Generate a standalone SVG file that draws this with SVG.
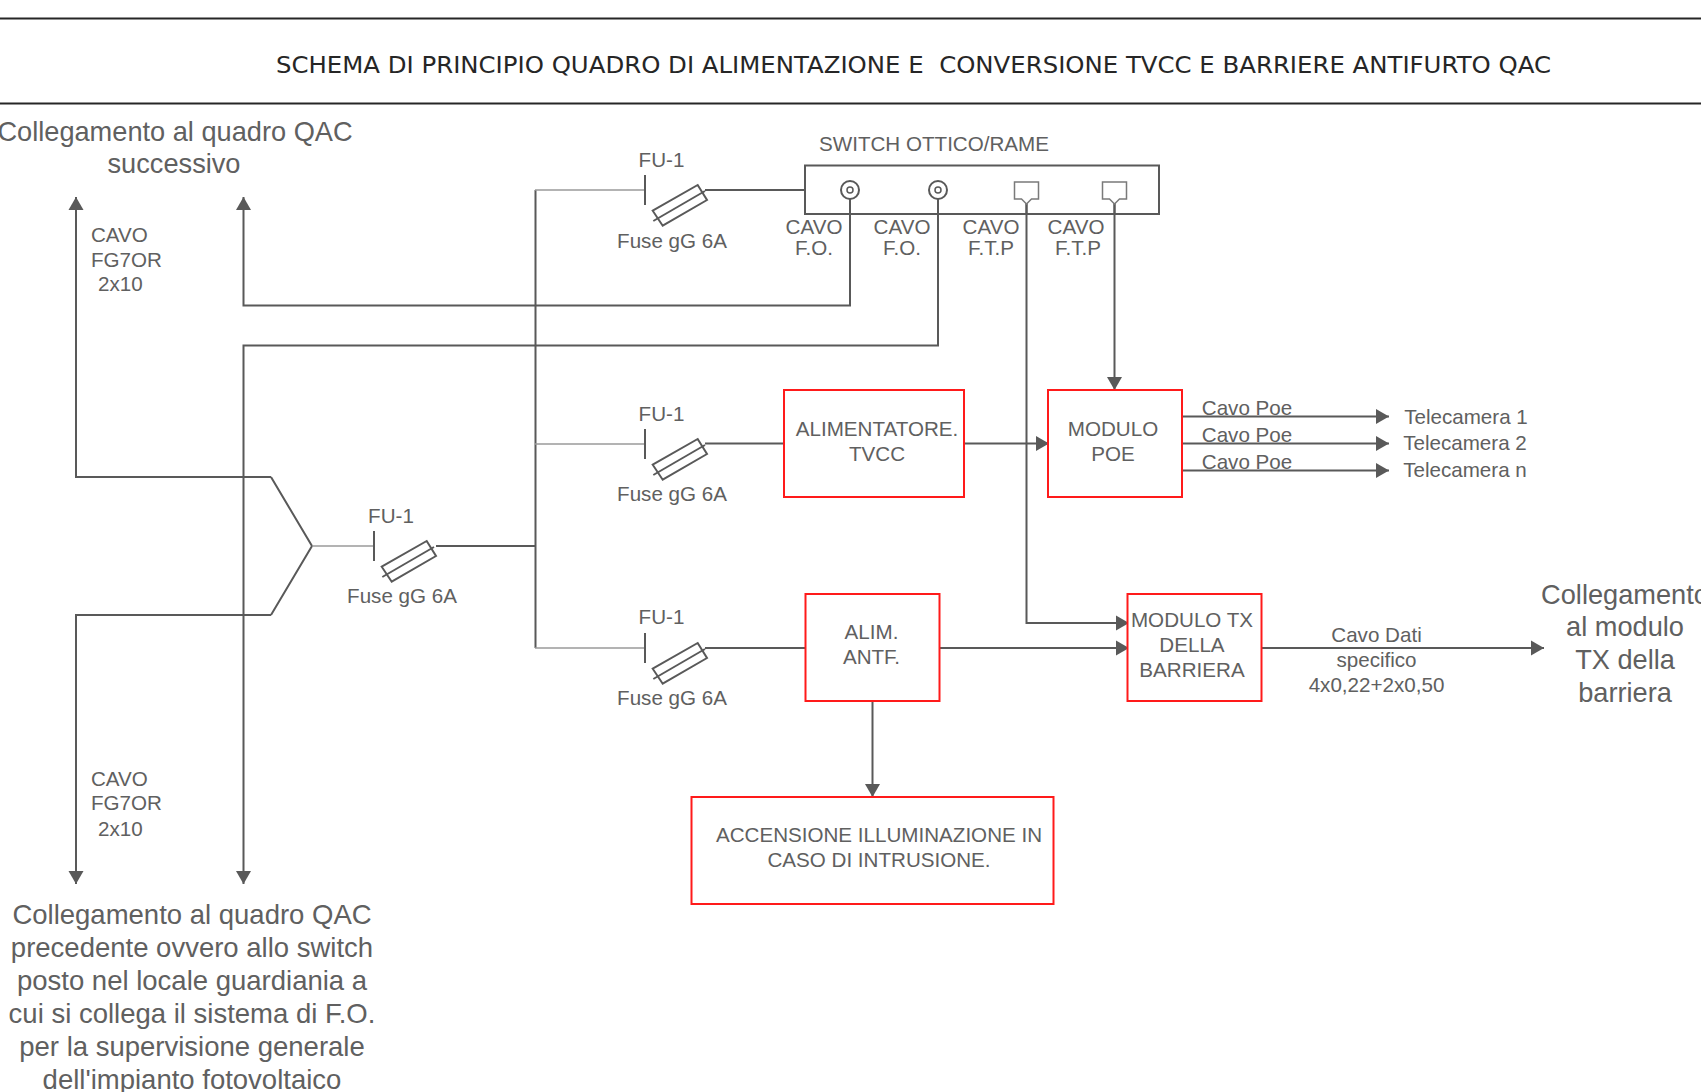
<svg xmlns="http://www.w3.org/2000/svg" xmlns:xlink="http://www.w3.org/1999/xlink" width="1701" height="1092" viewBox="0 0 1701 1092">
<style>
text{font-family:"Liberation Sans",Arial,sans-serif;fill:#606060;text-anchor:middle}
.s{font-size:20.6px}.l{font-size:27.2px}.b{font-size:27.5px}
.st{text-anchor:start}
.t{font-family:"DejaVu Sans",sans-serif;font-size:23px;fill:#262626;text-anchor:start}
.w{fill:none;stroke:#595959;stroke-width:2}
.a{fill:none;stroke:#595959;stroke-width:2;marker-end:url(#ar)}
.thin{fill:none;stroke:#9a9a9a;stroke-width:1.5}
.r{fill:#fff;stroke:#ff1a1a;stroke-width:2}
</style>
<defs>
<marker id="ar" markerUnits="userSpaceOnUse" markerWidth="14" markerHeight="16" refX="13" refY="8" orient="auto"><path d="M0,0.500L13,8L0,15.500Z" fill="#595959"/></marker>
<clipPath id="cl"><rect x="760" y="210" width="380" height="48"/></clipPath>
<g id="fuse"><path class="w" d="M0,-15V15"/><path class="w" d="M7.700,20.700L52.700,-5L62,10L17.700,35.700Z"/><path class="w" d="M8.300,31L60,1"/></g>
<g id="rj"><path d="M-12,-10H12V7H5L0,12L-5,7H-12Z" fill="#fff" stroke="#7a7a7a" stroke-width="1.5"/></g>
<g id="coax"><circle r="9" fill="#fff" stroke="#595959" stroke-width="2"/><circle r="3" fill="none" stroke="#595959" stroke-width="1.500"/></g>
</defs>
<rect width="1701" height="1092" fill="#fff"/>
<g id="header"><path d="M0,18.500H1701M0,103.500H1701" fill="none" stroke="#262626" stroke-width="2"/>
<text class="t" x="276" y="73" xml:space="preserve" textLength="1275" lengthAdjust="spacingAndGlyphs">SCHEMA DI PRINCIPIO QUADRO DI ALIMENTAZIONE E  CONVERSIONE TVCC E BARRIERE ANTIFURTO QAC</text></g>
<g id="connectors">
<path class="a" d="M271,477H76V197"/>
<path class="a" d="M271,615H76V884"/>
<path class="w" d="M271,477L312,546L271,615"/>
<path class="a" d="M850,190V305.500H243.500V197"/>
<path class="a" d="M938,190V345.500H243.500V884"/>
<path class="w" d="M436,546H535.500M535.500,190V648"/>
<path class="thin" d="M312,546H374M535,190H645M535,444H645M535,648H645"/>
<path class="w" d="M705,190H805M705,443.500H784M705,648H805"/>
<path class="a" d="M964,443.500H1049"/>
<path class="a" d="M1026.500,190V623H1129"/>
<path class="a" d="M1114.500,190V390"/>
<path class="a" d="M939,648H1129"/>
<path class="a" d="M872.500,701V797"/>
<path class="a" d="M1182,416.500H1389"/>
<path class="a" d="M1182,443.500H1389"/>
<path class="a" d="M1182,470.500H1389"/>
<path class="a" d="M1261,648H1544"/>
</g>
<g id="fuse-main"><use xlink:href="#fuse" x="374" y="546"/><text class="s" x="391" y="523">FU-1</text><text class="s" x="402" y="603">Fuse gG 6A</text></g>
<g id="fuse-1"><use xlink:href="#fuse" x="645" y="190"/><text class="s" x="661.500" y="167">FU-1</text><text class="s" x="672" y="248">Fuse gG 6A</text></g>
<g id="fuse-2"><use xlink:href="#fuse" x="645" y="444"/><text class="s" x="661.500" y="421">FU-1</text><text class="s" x="672" y="501">Fuse gG 6A</text></g>
<g id="fuse-3"><use xlink:href="#fuse" x="645" y="648"/><text class="s" x="661.500" y="624">FU-1</text><text class="s" x="672" y="705">Fuse gG 6A</text></g>
<g id="switch"><path class="w" d="M805,165.500H1159V214H805Z"/>
<path class="w" d="M850,199V214M938,199V214M1026.500,202V214M1114.500,202V214"/>
<use xlink:href="#coax" x="850" y="190"/><use xlink:href="#coax" x="938" y="190"/><use xlink:href="#rj" x="1026.500" y="192"/><use xlink:href="#rj" x="1114.500" y="192"/>
<text class="s" x="934" y="151">SWITCH OTTICO/RAME</text>
<g clip-path="url(#cl)"><text class="s" x="814" y="234">CAVO</text><text class="s" x="814" y="255">F.O.</text><text class="s" x="902" y="234">CAVO</text><text class="s" x="902" y="255">F.O.</text><text class="s" x="991" y="234">CAVO</text><text class="s" x="991" y="255">F.T.P</text><text class="s" x="1076" y="234">CAVO</text><text class="s" x="1078" y="255">F.T.P</text></g></g>
<g id="alimentatore"><rect class="r" x="784" y="390" width="180" height="107"/><text class="s" x="877" y="436">ALIMENTATORE.</text><text class="s" x="877" y="461">TVCC</text></g>
<g id="modulo-poe"><rect class="r" x="1048" y="390" width="134" height="107"/><text class="s" x="1113" y="436">MODULO</text><text class="s" x="1113" y="461">POE</text></g>
<g id="alim-antf"><rect class="r" x="805.500" y="594" width="134" height="107"/><text class="s" x="871.500" y="639">ALIM.</text><text class="s" x="871.500" y="664">ANTF.</text></g>
<g id="modulo-tx"><rect class="r" x="1127.500" y="594" width="134" height="107"/><text class="s" x="1192" y="627">MODULO TX</text><text class="s" x="1192" y="652">DELLA</text><text class="s" x="1192" y="677">BARRIERA</text></g>
<g id="accensione"><rect class="r" x="691.500" y="797" width="362" height="107"/><text class="s" x="879" y="842">ACCENSIONE ILLUMINAZIONE IN</text><text class="s" x="879" y="867">CASO DI INTRUSIONE.</text></g>
<g id="labels">
<text class="l" x="175" y="141">Collegamento al quadro QAC</text><text class="l" x="174" y="173">successivo</text>
<text class="s st" x="91" y="242">CAVO</text><text class="s st" x="91" y="267">FG7OR</text><text class="s st" x="98" y="291">2x10</text>
<text class="s st" x="91" y="786">CAVO</text><text class="s st" x="91" y="810">FG7OR</text><text class="s st" x="98" y="836">2x10</text>
<text class="b" x="192" y="924">Collegamento al quadro QAC</text><text class="b" x="192" y="957">precedente ovvero allo switch</text><text class="b" x="192" y="990">posto nel locale guardiania a</text><text class="b" x="192" y="1023">cui si collega il sistema di F.O.</text><text class="b" x="192" y="1056">per la supervisione generale</text><text class="b" x="192" y="1089">dell'impianto fotovoltaico</text>
<text class="s" x="1247" y="415">Cavo Poe</text><text class="s" x="1247" y="442">Cavo Poe</text><text class="s" x="1247" y="469">Cavo Poe</text>
<text class="s" x="1466" y="424">Telecamera 1</text><text class="s" x="1465" y="450">Telecamera 2</text><text class="s" x="1465" y="477">Telecamera n</text>
<text class="s" x="1376.500" y="642">Cavo Dati</text><text class="s" x="1376.500" y="667">specifico</text><text class="s" x="1376.500" y="692">4x0,22+2x0,50</text>
<text class="l" x="1625" y="604">Collegamento</text><text class="l" x="1625" y="636">al modulo</text><text class="l" x="1625" y="669">TX della</text><text class="l" x="1625" y="702">barriera</text>
</g>
</svg>
